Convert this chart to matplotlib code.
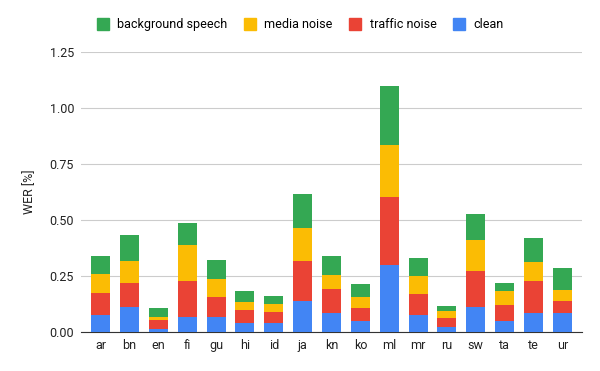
import numpy as np
import matplotlib
matplotlib.use('Agg')
import matplotlib.pyplot as plt
import matplotlib.patches as mpatches

plt.rcParams.update({'font.family': ['Roboto', 'DejaVu Sans'], 'font.size': 9})

langs = ['ar', 'bn', 'en', 'fi', 'gu', 'hi', 'id', 'ja', 'kn', 'ko', 'ml',
         'mr', 'ru', 'sw', 'ta', 'te', 'ur']
clean = [0.077, 0.110, 0.015, 0.068, 0.068, 0.042, 0.039, 0.140, 0.086, 0.048,
         0.298, 0.077, 0.024, 0.110, 0.048, 0.083, 0.086]
traffic = [0.099, 0.107, 0.037, 0.158, 0.087, 0.055, 0.049, 0.175, 0.107, 0.058,
           0.306, 0.091, 0.037, 0.161, 0.071, 0.143, 0.051]
media = [0.084, 0.101, 0.016, 0.161, 0.083, 0.035, 0.036, 0.148, 0.060, 0.049,
         0.229, 0.081, 0.031, 0.138, 0.063, 0.085, 0.049]
speech = [0.081, 0.117, 0.041, 0.101, 0.085, 0.050, 0.038, 0.155, 0.088, 0.061,
          0.267, 0.083, 0.026, 0.119, 0.038, 0.110, 0.101]

series = [('clean', clean, '#4285F4'), ('traffic noise', traffic, '#EA4335'),
          ('media noise', media, '#FBBC04'), ('background speech', speech, '#34A853')]

fig = plt.figure(figsize=(6, 3.71), dpi=100)
ax = fig.add_axes([0.135, 0.105, 0.835, 0.755])
x = np.arange(len(langs))
bottom = np.zeros(len(langs))
for name, vals, col in series:
    ax.bar(x, vals, bottom=bottom, width=0.66, color=col, zorder=3)
    bottom += np.array(vals)

ax.set_xlim(-0.68, len(langs) - 0.32)
ax.set_ylim(0, 1.25)
ax.set_yticks([0, 0.25, 0.5, 0.75, 1.0, 1.25])
ax.set_yticklabels(['0.00', '0.25', '0.50', '0.75', '1.00', '1.25'])
ax.set_xticks(x)
ax.set_xticklabels(langs)
ax.grid(axis='y', color='#cccccc', lw=0.8, zorder=0)
for s in ['top', 'right', 'left']:
    ax.spines[s].set_visible(False)
ax.spines['bottom'].set_color('#333333')
ax.tick_params(axis='both', length=0, labelsize=9, colors='#222222', pad=5)
ax.set_ylabel('WER [%]', fontsize=9, color='#222222', labelpad=10)

handles = [mpatches.Patch(color=c, label=n) for n, _, c in series[::-1]]
fig.legend(handles=handles, loc='center', bbox_to_anchor=(0.5, 0.933), ncol=4,
           frameon=False, fontsize=9, handlelength=1.0, handleheight=1.0,
           handletextpad=0.65, columnspacing=1.3)

plt.savefig('out.png', dpi=100, facecolor='white')
